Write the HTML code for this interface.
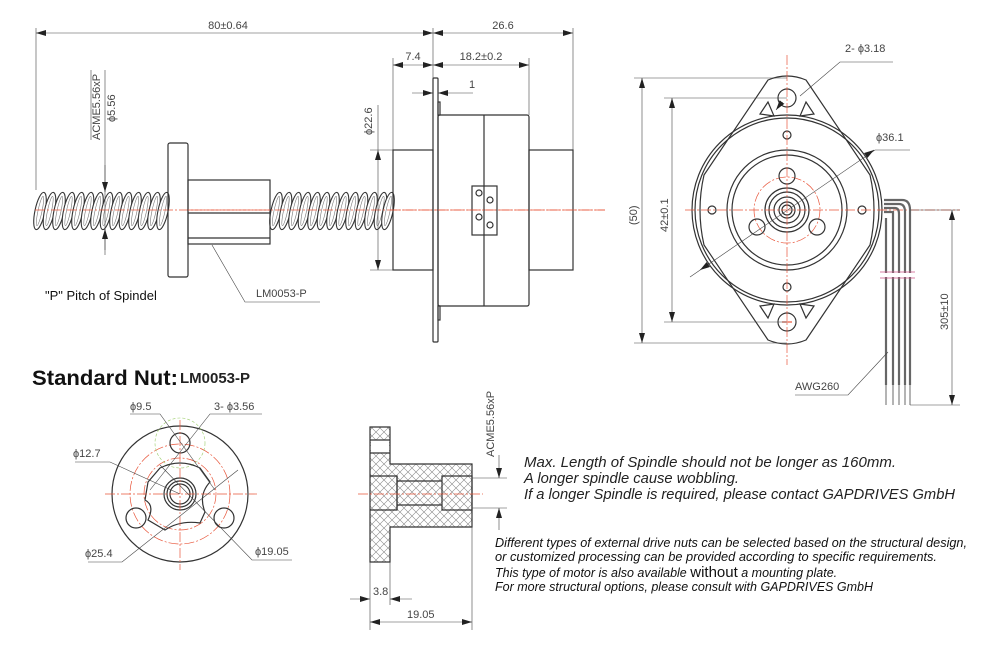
<!DOCTYPE html>
<html><head><meta charset="utf-8"><style>
html,body{margin:0;padding:0;background:#fff;}
svg{display:block;}
svg text{font-family:"Liberation Sans",Arial,sans-serif;}
.l{stroke:#333;stroke-width:1.2;fill:none}
.t{stroke:#444;stroke-width:0.6;fill:none}
.c{stroke:#e8553a;stroke-width:0.7;fill:none;stroke-dasharray:10 2 2 2}
.d{font-size:11px;fill:#444}
</style></head><body>
<svg width="1000" height="646" viewBox="0 0 1000 646" xmlns="http://www.w3.org/2000/svg" font-family="Liberation Sans, Arial, sans-serif">
<defs>
<marker id="a" viewBox="0 0 10 6" refX="10" refY="3" markerWidth="10" markerHeight="6" orient="auto-start-reverse" markerUnits="userSpaceOnUse"><path d="M0,0L10,3L0,6z" fill="#222"/></marker>
<pattern id="h" width="8" height="8" patternUnits="userSpaceOnUse"><path d="M0,0L8,8M8,0L0,8" stroke="#888" stroke-width="0.6"/></pattern>
<g id="th"><ellipse cx="0" cy="0" rx="5" ry="19" transform="rotate(12)" fill="#fff" stroke="#333" stroke-width="1.1"/><ellipse cx="0" cy="0" rx="2" ry="15" transform="rotate(12)" fill="none" stroke="#777" stroke-width="0.6"/></g>
</defs>

<!-- ===== Side view top-left ===== -->
<!-- screw threads -->
<g>
<use href="#th" x="40" y="211"/><use href="#th" x="49.5" y="211"/><use href="#th" x="59" y="211"/><use href="#th" x="68.5" y="211"/><use href="#th" x="78" y="211"/><use href="#th" x="87.5" y="211"/><use href="#th" x="97" y="211"/><use href="#th" x="106.5" y="211"/><use href="#th" x="116" y="211"/><use href="#th" x="125.5" y="211"/><use href="#th" x="135" y="211"/><use href="#th" x="144.5" y="211"/><use href="#th" x="154" y="211"/><use href="#th" x="163" y="211"/>
<use href="#th" x="276" y="211"/><use href="#th" x="285.5" y="211"/><use href="#th" x="295" y="211"/><use href="#th" x="304.5" y="211"/><use href="#th" x="314" y="211"/><use href="#th" x="323.5" y="211"/><use href="#th" x="333" y="211"/><use href="#th" x="342.5" y="211"/><use href="#th" x="352" y="211"/><use href="#th" x="361.5" y="211"/><use href="#th" x="371" y="211"/><use href="#th" x="380.5" y="211"/><use href="#th" x="388" y="211"/>
</g>
<line class="c" x1="35" y1="210" x2="605" y2="210"/>
<!-- dims -->
<g class="t">
<line x1="36" y1="28" x2="36" y2="190"/><line x1="433" y1="28" x2="433" y2="80"/><line x1="573" y1="28" x2="573" y2="150"/>
<line x1="36" y1="33" x2="433" y2="33" marker-start="url(#a)" marker-end="url(#a)"/>
<line x1="433" y1="33" x2="573" y2="33" marker-start="url(#a)" marker-end="url(#a)"/>
<line x1="393" y1="58" x2="393" y2="150"/><line x1="529" y1="58" x2="529" y2="115"/>
<line x1="393" y1="65" x2="433" y2="65" marker-start="url(#a)" marker-end="url(#a)"/>
<line x1="433" y1="65" x2="529" y2="65" marker-start="url(#a)" marker-end="url(#a)"/>
<line x1="412" y1="93" x2="433" y2="93" marker-end="url(#a)"/><line x1="473" y1="93" x2="438" y2="93" marker-end="url(#a)"/>
<line x1="91" y1="70" x2="91" y2="140"/>
<line x1="105" y1="70" x2="105" y2="250"/>
<line x1="105" y1="165" x2="105" y2="192" marker-end="url(#a)"/><line x1="105" y1="255" x2="105" y2="229" marker-end="url(#a)"/>
<line x1="370" y1="150" x2="393" y2="150"/><line x1="370" y1="270" x2="393" y2="270"/>
<line x1="378" y1="105" x2="378" y2="150"/>
<line x1="378" y1="150" x2="378" y2="270" marker-start="url(#a)" marker-end="url(#a)"/>
<polyline points="212,245 245,302 320,302"/>
</g>
<text class="d" x="228" y="29" text-anchor="middle">80±0.64</text>
<text class="d" x="503" y="29" text-anchor="middle">26.6</text>
<text class="d" x="413" y="60" text-anchor="middle">7.4</text>
<text class="d" x="481" y="60" text-anchor="middle">18.2±0.2</text>
<text class="d" x="472" y="88" text-anchor="middle">1</text>
<text class="d" transform="translate(100,140) rotate(-90)">ACME5.56xP</text>
<text class="d" transform="translate(115,122) rotate(-90)">ϕ5.56</text>
<text class="d" transform="translate(372,135) rotate(-90)">ϕ22.6</text>
<text class="d" x="256" y="297">LM0053-P</text>
<text x="45" y="300" font-size="13" fill="#111">"P" Pitch of Spindel</text>
<!-- nut -->
<rect class="l" x="168" y="143" width="20" height="134" rx="2" fill="#fff"/>
<rect class="l" x="188" y="180" width="82" height="64" fill="#fff"/>
<line class="l" x1="188" y1="213" x2="270" y2="213"/><line class="l" x1="188" y1="238" x2="270" y2="238"/>
<line class="c" x1="188" y1="210" x2="270" y2="210"/>
<!-- motor -->
<rect class="l" x="393" y="150" width="40" height="120" fill="#fff"/>
<rect class="l" x="529" y="150" width="44" height="120" fill="#fff"/>
<rect class="l" x="438" y="115" width="91" height="191" rx="2" fill="#fff"/>
<line class="l" x1="484" y1="115" x2="484" y2="306"/>
<rect class="l" x="433" y="78" width="5" height="264" rx="1" fill="#fff"/>
<rect class="l" x="438" y="102" width="2" height="13"/><rect class="l" x="438" y="306" width="2" height="14"/>
<rect class="l" x="472" y="186" width="25" height="49" fill="#fff"/>
<g class="l" stroke-width="0.9"><circle cx="479" cy="193" r="3"/><circle cx="490" cy="200" r="3"/><circle cx="479" cy="217" r="3"/><circle cx="490" cy="225" r="3"/></g>
<line class="c" x1="390" y1="210" x2="605" y2="210"/>

<!-- ===== Front view top-right ===== -->
<g>
<circle class="l" cx="787" cy="210" r="95"/><circle class="l" cx="787" cy="210" r="92"/>
<path class="l" d="M768,80 Q787,72 806,80 L870,175 Q878,210 870,245 L806,340 Q787,348 768,340 L704,245 Q696,210 704,175 Z" fill="#fff"/>
<circle class="l" cx="787" cy="210" r="60" stroke-width="2.4"/>
<circle class="l" cx="787" cy="210" r="55"/>
<circle class="c" cx="787" cy="210" r="33"/>
<circle class="l" cx="787" cy="210" r="22"/><circle class="l" cx="787" cy="210" r="18"/><circle class="l" cx="787" cy="210" r="13"/><circle class="l" cx="787" cy="210" r="8"/><circle class="l" cx="787" cy="210" r="5"/>
<circle class="l" cx="787" cy="176" r="8"/><circle class="l" cx="757" cy="227" r="8"/><circle class="l" cx="817" cy="227" r="8"/>
<circle class="l" cx="787" cy="135" r="4"/><circle class="l" cx="787" cy="287" r="4"/><circle class="l" cx="712" cy="210" r="4"/><circle class="l" cx="862" cy="210" r="4"/>
<circle class="l" cx="787" cy="98" r="9"/><circle class="l" cx="787" cy="322" r="9"/>
<path class="l" d="M768,102 L760,114 L774,116 Z M806,102 L814,114 L800,116 Z M768,318 L760,306 L774,304 Z M806,318 L814,306 L800,304 Z"/>
<line class="c" x1="787" y1="55" x2="787" y2="365"/><line class="c" x1="685" y1="210" x2="960" y2="210"/>
<line x1="782" y1="322" x2="792" y2="322" stroke="#e8553a" stroke-width="1.2"/>
<!-- wires -->
<path d="M884,200 L902,200 Q910,200 910,210 L910,385 M884,204 L899,204 Q905,204 905,212 L905,385 M884,208 L895,208 Q899,208 899,214 L899,385 M884,212 L893,212 L893,385 M886,218 L886,385" stroke="#666" stroke-width="2.2" fill="none"/>
<path d="M886,385 V405 M893,385 V405 M899,385 V405 M905,385 V405 M910,385 V405" stroke="#444" stroke-width="0.8"/>
<line x1="880" y1="272" x2="915" y2="272" stroke="#c58" stroke-width="0.8"/><line x1="880" y1="278" x2="915" y2="278" stroke="#c58" stroke-width="0.8"/>
<rect x="880" y="273" width="35" height="4" fill="#fff"/>
</g>
<g class="t">
<line x1="634" y1="78" x2="787" y2="78"/><line x1="634" y1="343" x2="787" y2="343"/>
<line x1="642" y1="78" x2="642" y2="343" marker-start="url(#a)" marker-end="url(#a)"/>
<line x1="664" y1="98" x2="787" y2="98"/><line x1="664" y1="322" x2="787" y2="322"/>
<line x1="672" y1="98" x2="672" y2="322" marker-start="url(#a)" marker-end="url(#a)"/>
<polyline points="893,62 840,62 800,96"/><line x1="782" y1="102" x2="776" y2="110" marker-end="url(#a)"/>
<polyline points="910,150 875,150 690,277"/><line x1="868" y1="154" x2="874" y2="150" marker-end="url(#a)"/><line x1="706" y1="266" x2="700" y2="270" marker-end="url(#a)"/>
<line x1="910" y1="210" x2="960" y2="210"/><line x1="910" y1="405" x2="960" y2="405"/>
<line x1="952" y1="210" x2="952" y2="405" marker-start="url(#a)" marker-end="url(#a)"/>
<polyline points="795,395 848,395 888,352"/>
</g>
<text class="d" x="845" y="52">2- ϕ3.18</text>
<text class="d" x="876" y="141">ϕ36.1</text>
<text class="d" transform="translate(637,225) rotate(-90)">(50)</text>
<text class="d" transform="translate(668,232) rotate(-90)">42±0.1</text>
<text class="d" transform="translate(948,330) rotate(-90)">305±10</text>
<text class="d" x="795" y="390">AWG260</text>

<!-- ===== Standard nut ===== -->
<text x="32" y="385" font-size="21" font-weight="bold" fill="#111" textLength="146" lengthAdjust="spacingAndGlyphs">Standard Nut:</text>
<text x="180" y="383" font-size="15" font-weight="bold" fill="#222">LM0053-P</text>
<g>
<circle class="l" cx="180" cy="494" r="68"/>
<circle class="c" cx="180" cy="494" r="50"/>
<circle class="c" cx="180" cy="494" r="36"/>
<circle cx="180" cy="443" r="25" fill="none" stroke="#9c6" stroke-width="0.6" stroke-dasharray="3 2"/>
<path class="l" d="M160,468 Q180,458 200,468 L210,482 Q198,495 205,512 L200,523 Q180,520 165,530 L148,520 Q155,505 145,500 L148,482 Z"/>
<circle class="l" cx="180" cy="494" r="16"/><circle class="l" cx="180" cy="494" r="13"/><circle class="l" cx="180" cy="494" r="10"/>
<circle class="l" cx="180" cy="443" r="10"/><circle class="l" cx="136" cy="518" r="10"/><circle class="l" cx="224" cy="518" r="10"/>
<line class="c" x1="105" y1="494" x2="257" y2="494"/><line class="c" x1="180" y1="420" x2="180" y2="570"/>
</g>
<g class="t">
<polyline points="130,414 160,414 215,490"/><polyline points="262,414 210,414 150,490"/>
<polyline points="75,462 110,462 180,494"/><polyline points="88,562 122,562 238,470"/>
<polyline points="292,560 252,560 160,465"/>
</g>
<text class="d" x="130" y="410">ϕ9.5</text>
<text class="d" x="214" y="410">3- ϕ3.56</text>
<text class="d" x="73" y="457">ϕ12.7</text>
<text class="d" x="85" y="557">ϕ25.4</text>
<text class="d" x="255" y="555">ϕ19.05</text>

<!-- nut side -->
<path d="M370,427 H390 V464 H472 V527 H390 V562 H370 Z" fill="url(#h)" stroke="#333" stroke-width="1.2"/>
<rect x="371" y="440" width="18" height="13" fill="#fff"/>
<line class="l" x1="370" y1="440" x2="390" y2="440"/><line class="l" x1="370" y1="453" x2="390" y2="453"/>
<path class="l" d="M370,476 H397 V510 H370 M397,481 H442 M397,505 H442 M442,476 H472 V510 H442 Z" fill="#fff"/>
<line class="l" x1="397" y1="476" x2="397" y2="510"/>
<line class="c" x1="358" y1="494" x2="483" y2="494"/>
<g class="t">
<line x1="472" y1="478" x2="507" y2="478"/><line x1="472" y1="508" x2="507" y2="508"/>
<line x1="499" y1="455" x2="499" y2="478" marker-end="url(#a)"/><line x1="499" y1="530" x2="499" y2="508" marker-end="url(#a)"/>
<line x1="370" y1="562" x2="370" y2="630"/><line x1="390" y1="562" x2="390" y2="605"/><line x1="472" y1="527" x2="472" y2="630"/>
<line x1="350" y1="599" x2="370" y2="599" marker-end="url(#a)"/><line x1="412" y1="599" x2="390" y2="599" marker-end="url(#a)"/>
<line x1="370" y1="622" x2="472" y2="622" marker-start="url(#a)" marker-end="url(#a)"/>
</g>
<text class="d" x="373" y="595">3.8</text>
<text class="d" x="407" y="618">19.05</text>
<text class="d" transform="translate(494,457) rotate(-90)">ACME5.56xP</text>

<!-- notes -->
<g font-style="italic" fill="#222" font-size="14.5">
<text x="524" y="467" textLength="372" lengthAdjust="spacingAndGlyphs">Max. Length of Spindle should not be longer as 160mm.</text>
<text x="524" y="483" textLength="215" lengthAdjust="spacingAndGlyphs">A longer spindle cause wobbling.</text>
<text x="524" y="499" textLength="431" lengthAdjust="spacingAndGlyphs">If a longer Spindle is required, please contact  GAPDRIVES GmbH</text>
</g>
<g font-style="italic" fill="#111" font-size="12.5">
<text x="495" y="547" textLength="472" lengthAdjust="spacingAndGlyphs">Different types of external drive nuts can be selected based on the structural design,</text>
<text x="495" y="561" textLength="442" lengthAdjust="spacingAndGlyphs">or customized processing can be provided according to specific requirements.</text>
<text x="495" y="577">This type of motor is also available <tspan font-size="15" font-style="normal">without</tspan> a mounting plate.</text>
<text x="495" y="591" textLength="378" lengthAdjust="spacingAndGlyphs">For more structural options, please consult with GAPDRIVES GmbH</text>
</g>
</svg>
</body></html>
